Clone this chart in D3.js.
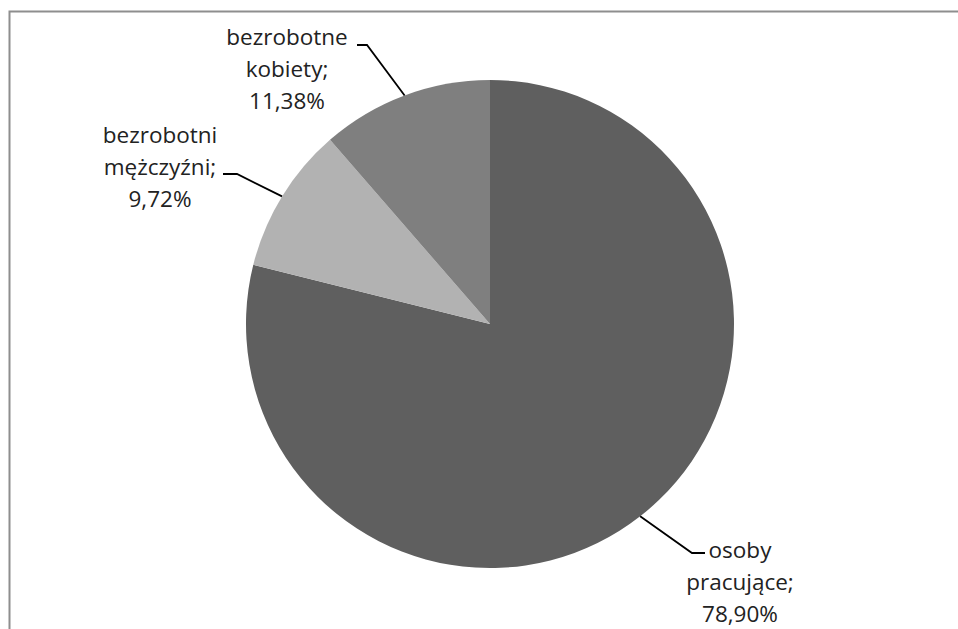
<!DOCTYPE html>
<html>
<head>
<meta charset="utf-8">
<script src="https://cdn.jsdelivr.net/npm/d3@7"></script>
<style>
  html, body { margin: 0; padding: 0; background: #fff; }
  svg { display: block; }
  text { font-family: "Open Sans", sans-serif; fill: #222; }
</style>
</head>
<body>
<svg id="chart"></svg>
<script>
// data
const categories = ["osoby pracujące", "bezrobotni mężczyźni", "bezrobotne kobiety"];
const values = [78.90, 9.72, 11.38];
const labelLines = [
    ["osoby", "pracujące;", "78,90%"],
    ["bezrobotni", "mężczyźni;", "9,72%"],
    ["bezrobotne", "kobiety;", "11,38%"]
];
const colours = ["#5f5f5f", "#b2b2b2", "#7f7f7f"];

// label layout (centre x, first baseline, elbow, end of short horizontal)
const labelPos = [
    { x: 740, y: 558, elbow: [692, 553], end: [705, 553] },
    { x: 160, y: 143, elbow: [237, 174], end: [223, 174] },
    { x: 287, y: 45, elbow: [367, 45], end: [357, 45] }
];

const width = 958, height = 629;
const cx = 490, cy = 324, radius = 244;
const lineH = 32;

const svg = d3.select("#chart")
    .attr("width", width)
    .attr("height", height);

// chart area frame, runs off the right and bottom
svg.append("rect")
    .attr("x", 9.5)
    .attr("y", 11.5)
    .attr("width", 1000)
    .attr("height", 700)
    .attr("fill", "none")
    .attr("stroke", "#8e8e8e")
    .attr("stroke-width", 2);

const pie = d3.pie().sort(null).value(d => d);
const arcs = pie(values);
const arc = d3.arc().innerRadius(0).outerRadius(radius);

const g = svg.append("g").attr("transform", `translate(${cx},${cy})`);

g.selectAll("path")
    .data(arcs)
    .enter()
    .append("path")
    .attr("d", arc)
    .attr("fill", (d, i) => colours[i]);

// leader lines
svg.append("g")
    .selectAll("polyline")
    .data(arcs)
    .enter()
    .append("polyline")
    .attr("points", (d, i) => {
        const a = (d.startAngle + d.endAngle) / 2;
        const p0 = [cx + radius * Math.sin(a), cy - radius * Math.cos(a)];
        const lp = labelPos[i];
        return [p0, lp.elbow, lp.end].map(p => p.join(",")).join(" ");
    })
    .attr("fill", "none")
    .attr("stroke", "#000")
    .attr("stroke-width", 1.8);

// labels
const labels = svg.append("g")
    .selectAll("text")
    .data(arcs)
    .enter()
    .append("text")
    .attr("text-anchor", "middle")
    .attr("font-size", 22.5)
    .attr("x", (d, i) => labelPos[i].x)
    .attr("y", (d, i) => labelPos[i].y);

labels.each(function(d, i) {
    const t = d3.select(this);
    labelLines[i].forEach((s, k) => {
        t.append("tspan")
            .attr("x", labelPos[i].x)
            .attr("dy", k === 0 ? 0 : lineH)
            .text(s);
    });
});
</script>
</body>
</html>
